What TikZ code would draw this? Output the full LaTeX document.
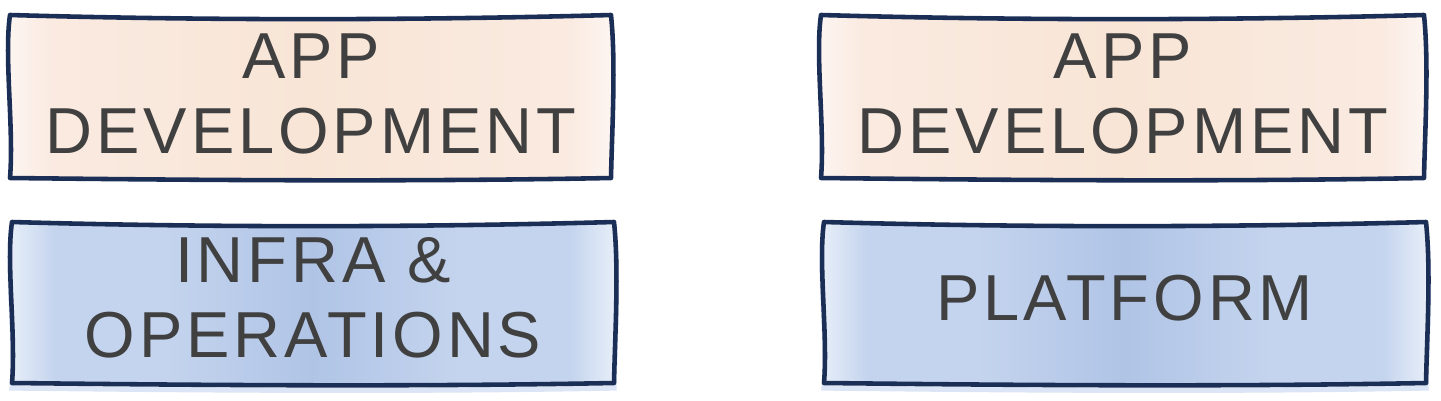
\documentclass[tikz,border=0pt]{standalone}
\usepackage{fontspec}
\setmainfont{Liberation Sans}
\usetikzlibrary{calc,positioning}

\definecolor{frameblue}{HTML}{1B2E56}
\definecolor{inkgray}{HTML}{404040}
\definecolor{peachedge}{HTML}{FDF6F3}
\definecolor{peachmid}{HTML}{FAEAE0}
\definecolor{peachcore}{HTML}{F8E5D6}
\definecolor{bluedge}{HTML}{EAF0F9}
\definecolor{bluemid}{HTML}{C4D4EE}
\definecolor{bluecore}{HTML}{B0C4E6}

\pgfdeclarehorizontalshading{appshade}{100bp}{color(0bp)=(peachedge); color(25bp)=(peachedge); color(29bp)=(peachmid); color(50bp)=(peachcore); color(71bp)=(peachmid); color(75bp)=(peachedge); color(100bp)=(peachedge)}
\pgfdeclarehorizontalshading{infrashade}{100bp}{color(0bp)=(bluedge); color(25bp)=(bluedge); color(29bp)=(bluemid); color(38bp)=(bluemid); color(50bp)=(bluecore); color(62bp)=(bluemid); color(71bp)=(bluemid); color(75bp)=(bluedge); color(100bp)=(bluedge)}

% wobbly hand drawn frame: x1, y1, x2, y2, options
\newcommand{\roughbox}[5]{%
  \draw[#5] (#1,#2) .. controls ($(#1,#2)!0.35!(#3,#2)+(0,6)$) and ($(#1,#2)!0.7!(#3,#2)+(0,5)$) .. (#3,#2)
    .. controls ($(#3,#2)!0.3!(#3,#4)+(5,0)$) and ($(#3,#2)!0.7!(#3,#4)+(1,0)$) .. (#3,#4)
    .. controls ($(#3,#4)!0.35!(#1,#4)+(0,4)$) and ($(#3,#4)!0.7!(#1,#4)+(0,2)$) .. (#1,#4)
    .. controls ($(#1,#4)!0.3!(#1,#2)+(4,0)$) and ($(#1,#4)!0.75!(#1,#2)+(-6,0)$) .. cycle;}

\begin{document}
\begin{tikzpicture}[x=0.02cm,y=-0.02cm,node distance=16.24cm,
    box text/.style={align=center,text=inkgray,inner sep=0pt,font=\fontsize{37}{42.5}\selectfont\addfontfeatures{LetterSpace=6}},
    sketch line/.style={draw=frameblue,line width=2.6pt,line join=round},
    soft shadow/.style={draw=bluemid!60,line width=3pt}]
    \useasboundingbox (0,0) rectangle (1441,400);

    % shadows under the lower boxes
    \roughbox{12}{227}{614}{388}{soft shadow}
    \roughbox{824}{227}{1426}{388}{soft shadow}

    \roughbox{10}{15}{611}{178}{sketch line,shading=appshade}
    \roughbox{821}{15}{1424}{178}{sketch line,shading=appshade}
    \roughbox{12}{222}{614}{383}{sketch line,shading=infrashade}
    \roughbox{824}{222}{1426}{383}{sketch line,shading=infrashade}

    \node[box text] (0) at (311,94) {APP\\DEVELOPMENT};
    \node[box text] (1) [right of = 0] {APP\\DEVELOPMENT};
    \node[box text] (2) at (313,298) {INFRA \&\\OPERATIONS};
    \node[box text] (3) [right of = 2] {PLATFORM};
\end{tikzpicture}
\end{document}
